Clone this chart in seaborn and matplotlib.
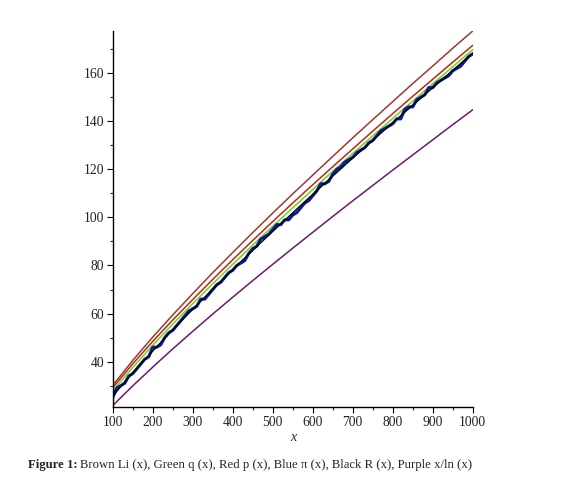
import matplotlib
matplotlib.use("Agg")
import matplotlib.pyplot as plt
import numpy as np
import pandas as pd
import seaborn as sns
from matplotlib.ticker import MultipleLocator

# x grid for the smooth curves
x_smooth = [100, 150, 200, 250, 300, 350, 400, 450, 500, 550,
            600, 650, 700, 750, 800, 850, 900, 950, 1000]

li_vals = [30.1, 40.5, 50.2, 59.4, 68.3, 77.0, 85.4, 93.7, 101.8, 109.8,
           117.6, 125.4, 133.1, 140.7, 148.2, 155.7, 163.0, 170.4, 177.6]
q_vals = [27.8, 37.6, 46.8, 55.6, 64.1, 72.4, 80.5, 88.5, 96.3, 104.0,
          111.6, 119.2, 126.6, 133.9, 141.2, 148.4, 155.6, 162.7, 169.8]
p_vals = [29.1, 39.1, 48.4, 57.3, 65.8, 74.2, 82.4, 90.4, 98.3, 106.0,
          113.6, 121.1, 128.5, 135.9, 143.2, 150.4, 157.5, 164.6, 171.6]
r_vals = [25.7, 35.3, 44.4, 53.3, 61.8, 70.1, 78.3, 86.3, 94.2, 101.9,
          109.6, 117.2, 124.7, 132.1, 139.4, 146.7, 154.0, 161.2, 168.4]
xlnx_vals = [21.7, 29.9, 37.7, 45.3, 52.6, 59.8, 66.8, 73.7, 80.5, 87.2,
             93.8, 100.4, 106.9, 113.3, 119.7, 126.0, 132.3, 138.6, 144.8]

# prime counting function, x every 10
x_pi = list(range(100, 1001, 10))
pi_vals = [25, 29, 30, 31, 34, 35, 37, 39, 41, 42,
           46, 46, 47, 50, 52, 53, 55, 57, 59, 61,
           62, 63, 66, 66, 68, 70, 72, 73, 75, 77,
           78, 80, 81, 82, 85, 87, 88, 91, 92, 93,
           95, 97, 97, 99, 99, 101, 102, 104, 106, 107,
           109, 111, 114, 114, 115, 118, 120, 121, 123, 124,
           125, 127, 128, 129, 131, 132, 134, 136, 137, 138,
           139, 141, 141, 145, 146, 146, 149, 150, 151, 154,
           154, 156, 157, 158, 159, 161, 162, 163, 165, 167,
           168]

smooth = pd.DataFrame({"x": x_smooth, "Li": li_vals, "q": q_vals,
                       "p": p_vals, "R": r_vals, "xlnx": xlnx_vals})
steps = pd.DataFrame({"x": x_pi, "pi": pi_vals})

sns.set_style("white")
plt.rcParams["font.family"] = ["Liberation Serif", "DejaVu Serif"]

fig = plt.figure(figsize=(5.67, 4.99), dpi=100)
ax = fig.add_axes([0.1988, 0.1838, 0.635, 0.7547])

sns.lineplot(data=smooth, x="x", y="Li", color="#9a3b30", lw=1.1, ax=ax)
sns.lineplot(data=smooth, x="x", y="q", color="#7ed321", lw=1.2, ax=ax)
sns.lineplot(data=smooth, x="x", y="p", color="#b52a1c", lw=1.1, ax=ax)
sns.lineplot(data=steps, x="x", y="pi", color="#0a1a9a", lw=2.2, ax=ax)
sns.lineplot(data=smooth, x="x", y="R", color="black", lw=1.0, ax=ax)
sns.lineplot(data=smooth, x="x", y="xlnx", color="#6a1a6e", lw=1.1, ax=ax)

ax.set_xlim(100, 1000)
ax.set_ylim(21.0, 177.7)
ax.xaxis.set_major_locator(MultipleLocator(100))
ax.xaxis.set_minor_locator(MultipleLocator(50))
ax.yaxis.set_major_locator(MultipleLocator(20))
ax.yaxis.set_minor_locator(MultipleLocator(10))
ax.set_yticks([40, 60, 80, 100, 120, 140, 160])

for side in ["top", "right"]:
    ax.spines[side].set_visible(False)
for side in ["left", "bottom"]:
    ax.spines[side].set_color("black")
    ax.spines[side].set_linewidth(1.0)

ax.tick_params(which="major", direction="out", length=4, width=0.8,
               labelsize=9.8, colors="black", pad=2,
               bottom=True, left=True)
ax.tick_params(which="minor", direction="out", length=2.5, width=0.8,
               bottom=True, left=True)
for lab in ax.get_xticklabels() + ax.get_yticklabels():
    lab.set_color("#222222")

ax.set_ylabel("")
ax.set_xlabel("x", fontstyle="italic", fontsize=10, labelpad=2)

# caption: bold prefix, normal remainder
fig.canvas.draw()
renderer = fig.canvas.get_renderer()
t1 = fig.text(28 / 567, 1 - 465 / 499, "Figure 1:", fontweight="bold",
              fontsize=9.2, ha="left", va="center")
bb = t1.get_window_extent(renderer=renderer)
x_next = (bb.x1 + 3) / fig.bbox.width
fig.text(x_next, 1 - 465 / 499,
         "Brown Li (x), Green q (x), Red p (x), Blue \u03c0 (x), Black R (x), Purple x/ln (x)",
         fontsize=9.2, ha="left", va="center")

fig.savefig("out.png", dpi=100)
